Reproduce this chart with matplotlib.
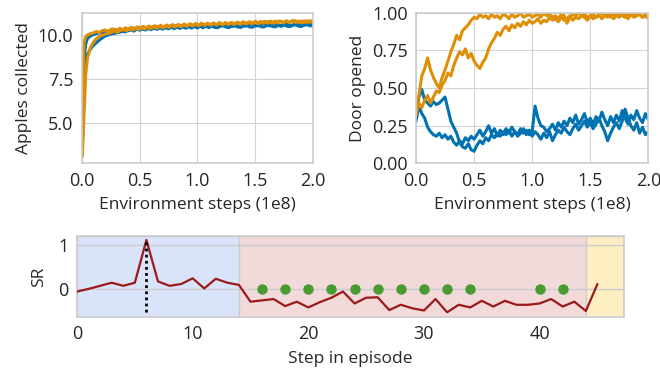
import numpy as np
import matplotlib
matplotlib.use("Agg")
import matplotlib.pyplot as plt
import seaborn as sns

sns.set_style("whitegrid")
plt.rcParams['font.family'] = ['Open Sans', 'DejaVu Sans']
plt.rcParams['axes.edgecolor'] = '#cccccc'
plt.rcParams['grid.color'] = '#d4d4d4'
plt.rcParams['text.color'] = '#262626'
plt.rcParams['xtick.color'] = '#262626'
plt.rcParams['ytick.color'] = '#262626'

BLUE = '#0173b2'
ORANGE = '#de8f05'

# ---------------- Top-left: apples collected ----------------
apples_head_steps = [0.005, 0.02, 0.035]
apples_tail_start, apples_tail_end = 0.05, 2.0

apples_blue_slow_head = [3.6, 6.8, 8.4]
apples_blue_slow_tail = [8.9, 9.2, 9.4, 9.55, 9.7, 9.82, 9.93, 10.0, 10.05, 10.08, 10.12, 10.15, 10.2, 10.18,
                         10.24, 10.29, 10.22, 10.33, 10.27, 10.35, 10.28, 10.38, 10.3, 10.4, 10.32, 10.41,
                         10.33, 10.43, 10.35, 10.44, 10.36, 10.45, 10.37, 10.46, 10.38, 10.47, 10.39, 10.48,
                         10.4, 10.49, 10.41, 10.5, 10.42, 10.51, 10.43, 10.41, 10.5, 10.52, 10.44, 10.42,
                         10.51, 10.53, 10.45, 10.43, 10.52, 10.54, 10.46, 10.44, 10.53, 10.55, 10.47, 10.45,
                         10.54, 10.56, 10.48, 10.46, 10.55, 10.49, 10.57, 10.5, 10.47, 10.56, 10.58, 10.5,
                         10.48, 10.57, 10.59, 10.51, 10.56]
apples_blue_fast_head = [3.4, 8.6, 9.5]
apples_blue_fast_tail = [9.8, 9.95, 10.02, 10.08, 10.12, 10.1, 10.16, 10.2, 10.16, 10.25, 10.29, 10.22, 10.32,
                         10.26, 10.36, 10.29, 10.39, 10.31, 10.41, 10.33, 10.43, 10.35, 10.45, 10.37, 10.47,
                         10.39, 10.48, 10.4, 10.5, 10.42, 10.51, 10.43, 10.53, 10.45, 10.54, 10.46, 10.55,
                         10.47, 10.56, 10.48, 10.57, 10.49, 10.58, 10.5, 10.47, 10.57, 10.59, 10.5, 10.6,
                         10.52, 10.49, 10.59, 10.61, 10.52, 10.5, 10.6, 10.62, 10.53, 10.51, 10.61, 10.63,
                         10.54, 10.52, 10.62, 10.64, 10.55, 10.53, 10.63, 10.65, 10.56, 10.54, 10.64, 10.66,
                         10.57, 10.55, 10.65, 10.57, 10.62]
apples_orange_fast_head = [6.3, 9.6, 9.9]
apples_orange_fast_tail = [10.0, 10.08, 10.12, 10.2, 10.13, 10.25, 10.28, 10.2, 10.32, 10.34, 10.25, 10.38,
                           10.29, 10.41, 10.32, 10.44, 10.34, 10.46, 10.37, 10.49, 10.39, 10.51, 10.41, 10.53,
                           10.43, 10.55, 10.45, 10.57, 10.47, 10.59, 10.48, 10.6, 10.5, 10.62, 10.52, 10.64,
                           10.53, 10.65, 10.55, 10.67, 10.56, 10.66, 10.57, 10.68, 10.58, 10.7, 10.59, 10.69,
                           10.6, 10.71, 10.61, 10.72, 10.62, 10.74, 10.63, 10.73, 10.64, 10.75, 10.65, 10.76,
                           10.66, 10.72, 10.77, 10.67, 10.79, 10.68, 10.78, 10.69, 10.8, 10.7, 10.82, 10.71,
                           10.79, 10.69, 10.8, 10.71, 10.81, 10.72]
apples_orange_slow_head = [3.1, 5.5, 7.8]
apples_orange_slow_tail = [8.7, 9.3, 9.6, 9.8, 9.92, 10.0, 10.06, 10.1, 10.15, 10.22, 10.16, 10.27, 10.3, 10.24,
                           10.35, 10.28, 10.39, 10.31, 10.42, 10.34, 10.45, 10.36, 10.47, 10.39, 10.5, 10.41,
                           10.52, 10.43, 10.54, 10.45, 10.56, 10.47, 10.58, 10.49, 10.6, 10.51, 10.62, 10.53,
                           10.63, 10.54, 10.65, 10.56, 10.66, 10.57, 10.68, 10.58, 10.69, 10.6, 10.7, 10.61,
                           10.72, 10.62, 10.73, 10.64, 10.75, 10.65, 10.76, 10.66, 10.74, 10.77, 10.67, 10.78,
                           10.68, 10.76, 10.79, 10.69, 10.8, 10.7, 10.78, 10.81, 10.71, 10.79, 10.7, 10.8,
                           10.72, 10.81]

# ---------------- Top-right: door opened ----------------
door_blue_a = [0.30, 0.44, 0.49, 0.42, 0.40, 0.38, 0.41, 0.39, 0.40, 0.42, 0.44, 0.36, 0.28, 0.24, 0.20, 0.14,
               0.11, 0.10, 0.13, 0.09, 0.08, 0.12, 0.15, 0.13, 0.17, 0.15, 0.19, 0.17, 0.20, 0.18, 0.21, 0.19,
               0.22, 0.18, 0.21, 0.19, 0.23, 0.20, 0.22, 0.19, 0.21, 0.38, 0.30, 0.25, 0.24, 0.21, 0.23, 0.26,
               0.22, 0.27, 0.24, 0.28, 0.25, 0.30, 0.27, 0.32, 0.26, 0.29, 0.33, 0.27, 0.30, 0.26, 0.31, 0.28,
               0.34, 0.29, 0.25, 0.31, 0.27, 0.32, 0.28, 0.35, 0.30, 0.26, 0.32, 0.29, 0.35, 0.30, 0.27, 0.33,
               0.29]
door_blue_b = [0.28, 0.38, 0.33, 0.30, 0.24, 0.21, 0.19, 0.18, 0.20, 0.17, 0.19, 0.16, 0.18, 0.14, 0.12, 0.15,
               0.13, 0.17, 0.15, 0.18, 0.16, 0.19, 0.22, 0.18, 0.21, 0.25, 0.20, 0.23, 0.18, 0.22, 0.19, 0.23,
               0.20, 0.24, 0.21, 0.18, 0.20, 0.23, 0.19, 0.22, 0.18, 0.21, 0.19, 0.16, 0.20, 0.17, 0.21, 0.15,
               0.19, 0.22, 0.20, 0.24, 0.21, 0.19, 0.23, 0.26, 0.22, 0.25, 0.28, 0.24, 0.27, 0.23, 0.26, 0.30,
               0.25, 0.21, 0.15, 0.20, 0.24, 0.27, 0.23, 0.28, 0.36, 0.30, 0.25, 0.22, 0.27, 0.20, 0.24, 0.19,
               0.21]
door_orange_a = [0.36, 0.45, 0.58, 0.63, 0.70, 0.62, 0.57, 0.53, 0.50, 0.57, 0.62, 0.68, 0.74, 0.79, 0.85, 0.82,
                 0.88, 0.90, 0.92, 0.95, 0.97, 0.96, 0.99, 0.97, 0.98, 0.96, 0.99, 0.97, 0.98, 0.96, 0.99, 0.98,
                 0.96, 0.99, 0.97, 0.98, 1.00, 0.97, 0.98, 0.99, 0.97, 0.98, 0.99, 0.97, 1.00, 0.98, 0.99, 0.97,
                 0.98, 0.96, 0.99, 0.98, 0.93, 0.97, 0.99, 0.98, 1.00, 0.98, 0.99, 0.97, 0.98, 0.99, 0.97, 0.98,
                 1.00, 0.98, 0.99, 0.97, 0.99, 0.98, 1.00, 0.98, 0.97, 0.99, 0.98, 1.00, 0.98, 0.99, 0.97, 0.99,
                 0.98]
door_orange_b = [0.32, 0.40, 0.37, 0.42, 0.45, 0.40, 0.44, 0.48, 0.47, 0.52, 0.55, 0.60, 0.58, 0.65, 0.70, 0.74,
                 0.72, 0.76, 0.70, 0.73, 0.68, 0.65, 0.63, 0.67, 0.70, 0.76, 0.80, 0.83, 0.87, 0.85, 0.89, 0.91,
                 0.88, 0.92, 0.90, 0.93, 0.91, 0.94, 0.92, 0.95, 0.93, 0.94, 0.96, 0.93, 0.95, 0.94, 0.97, 0.95,
                 0.96, 0.94, 0.97, 0.95, 0.96, 0.98, 0.95, 0.97, 0.96, 0.98, 0.97, 0.95, 0.98, 0.96, 0.97, 0.99,
                 0.96, 0.98, 0.97, 0.99, 0.96, 0.98, 0.97, 0.99, 0.98, 0.96, 0.99, 0.97, 0.98, 0.99, 0.97, 0.98,
                 0.96]

# ---------------- Bottom: SR per step in episode ----------------
sr_steps = list(range(46))
sr_values = [-0.06, 0.00, 0.07, 0.14, 0.07, 0.14, 1.11, 0.17, 0.07, 0.11, 0.24, 0.01, 0.23, 0.14, 0.09,
             -0.29, -0.26, -0.23, -0.39, -0.29, -0.42, -0.30, -0.20, -0.06, -0.33, -0.20, -0.19, -0.48,
             -0.36, -0.44, -0.49, -0.23, -0.53, -0.36, -0.42, -0.27, -0.40, -0.27, -0.36, -0.36, -0.33,
             -0.23, -0.40, -0.29, -0.50, 0.11]
dot_steps = [16, 18, 20, 22, 24, 26, 28, 30, 32, 34, 40, 42]
dot_values = [0] * len(dot_steps)
peak_step = 6
phase_bounds = [0, 14, 44, 47.3]
phase_colors = ['#d9e4fb', '#f2d9da', '#fdefc2']

fig = plt.figure(figsize=(6.6, 3.71), dpi=100)
ax1 = fig.add_axes([0.1238, 0.5598, 0.3505, 0.4059])
ax2 = fig.add_axes([0.6303, 0.5598, 0.3520, 0.4059])
ax3 = fig.add_axes([0.1167, 0.1464, 0.8288, 0.2175])

FS_LABEL = 12.5
FS_TICK = 13
LW = 2.2


def apples_x(head, tail):
    return list(apples_head_steps) + list(np.linspace(apples_tail_start, apples_tail_end, len(tail)))


for head, tail, c in [(apples_blue_slow_head, apples_blue_slow_tail, BLUE),
                      (apples_blue_fast_head, apples_blue_fast_tail, BLUE),
                      (apples_orange_slow_head, apples_orange_slow_tail, ORANGE),
                      (apples_orange_fast_head, apples_orange_fast_tail, ORANGE)]:
    ax1.plot(apples_x(head, tail), head + tail, color=c, lw=LW)
ax1.set_xlim(0, 2.0)
ax1.set_ylim(2.74, 11.26)
ax1.set_yticks([5.0, 7.5, 10.0])
ax1.set_xticks([0.0, 0.5, 1.0, 1.5, 2.0])
ax1.set_ylabel('Apples collected', fontsize=FS_LABEL, labelpad=4)
ax1.set_xlabel('Environment steps (1e8)', fontsize=FS_LABEL, labelpad=5)

for vals, c in [(door_blue_a, BLUE), (door_blue_b, BLUE), (door_orange_a, ORANGE), (door_orange_b, ORANGE)]:
    ax2.plot(np.linspace(0, 2, len(vals)), vals, color=c, lw=LW)
ax2.set_xlim(0, 2.0)
ax2.set_ylim(0, 1.0)
ax2.set_yticks([0.0, 0.25, 0.5, 0.75, 1.0])
ax2.set_yticklabels(['0.00', '0.25', '0.50', '0.75', '1.00'])
ax2.set_xticks([0.0, 0.5, 1.0, 1.5, 2.0])
ax2.set_ylabel('Door opened', fontsize=FS_LABEL, labelpad=4)
ax2.set_xlabel('Environment steps (1e8)', fontsize=FS_LABEL, labelpad=5)

for i in range(3):
    ax3.axvspan(phase_bounds[i], phase_bounds[i + 1], facecolor=phase_colors[i],
                edgecolor='#cccccc', lw=1.0, zorder=0)
ax3.grid(axis='x', visible=False)
ax3.set_axisbelow(False)
ax3.grid(axis='y', color='#cccccc', lw=1.0, zorder=0.5)
ax3.plot(sr_steps, sr_values, color='#9b1a1a', lw=1.6, zorder=3)
ax3.plot(dot_steps, dot_values, 'o', color='#4a9a32', ms=6.5, zorder=4)
ax3.vlines(peak_step, -0.52, sr_values[peak_step], colors='black', linestyles=(0, (1, 1.2)), lw=2.0, zorder=4)
ax3.set_xlim(0, 47.3)
ax3.set_ylim(-0.63, 1.2)
ax3.set_xticks([0, 10, 20, 30, 40])
ax3.set_yticks([0, 1])
ax3.set_ylabel('SR', fontsize=FS_LABEL, labelpad=8)
ax3.set_xlabel('Step in episode', fontsize=FS_LABEL, labelpad=6)

for ax in (ax1, ax2, ax3):
    ax.tick_params(labelsize=FS_TICK, length=0, pad=6)
    for s in ax.spines.values():
        s.set_color('#cccccc')
        s.set_linewidth(1.2)

fig.savefig('out.png', dpi=100)
